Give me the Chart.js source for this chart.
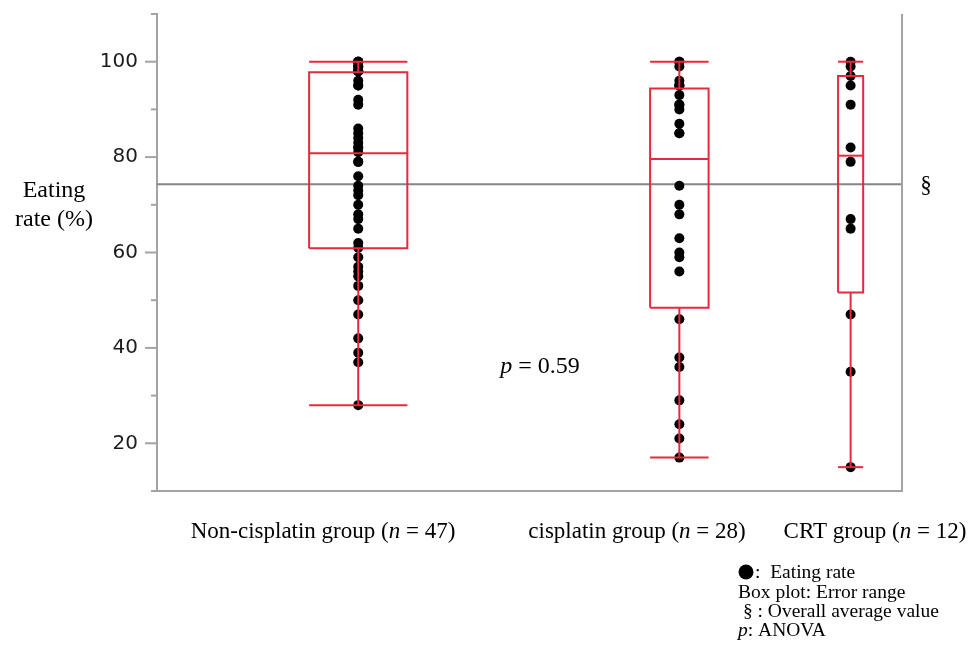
<!DOCTYPE html>
<html>
<head>
<meta charset="utf-8">
<script src="https://cdn.jsdelivr.net/npm/chart.js@4/dist/chart.umd.min.js"></script>
<style>
  html, body { margin: 0; padding: 0; background: #fff; }
  #wrap { width: 976px; height: 650px; position: relative; }
</style>
</head>
<body>
<div id="wrap"><canvas id="c" width="976" height="650"></canvas></div>
<script>
// Groups and sizes (x positions follow JMP's proportional widths)
const groupNames = ['Non-cisplatin group', 'cisplatin group', 'CRT group'];
const groupSizes = [47, 28, 12];

// Individual eating rates (%)
const nonCisplatinRates = [100, 100, 100, 100, 99, 99, 99, 98, 98, 98, 98, 98,
  96, 95, 95, 92, 91, 86, 85, 84, 83, 82, 82, 81,
  79, 79, 76, 74, 73, 72, 70, 68, 67, 65, 62,
  61, 59, 57, 56, 55, 53, 50, 47, 42, 39, 37, 28];
const cisplatinRates = [100, 100, 99, 96, 95, 95, 95, 93, 91, 91, 90, 87, 85, 85,
  74, 70, 68, 63, 60, 59, 56,
  46, 38, 36, 29, 24, 21, 17];
const crtRates = [100, 99, 97, 95, 91, 82, 79, 67, 65, 47, 35, 15];

// Box plot summaries
const upperWhisker = [100, 100, 100];
const q3 = [97.8, 94.4, 97.0];
const median = [80.8, 79.6, 80.3];
const q1 = [60.9, 48.4, 51.6];
const lowerWhisker = [28, 17, 15];

// Overall mean and ANOVA p value
const overallMean = 74.3;
const pValue = 0.59;

// Labelled y ticks
const yTickLabels = [20, 40, 60, 80, 100];

const RED = '#e8283f';
const GRAY_AXIS = '#a3a3a3';
const SERIF = '"Liberation Serif", "Times New Roman", serif';

const totalN = groupSizes.reduce((a, b) => a + b, 0);
const centers = [];
{ let acc = 0; groupSizes.forEach(n => { centers.push(acc + n / 2); acc += n; }); }
const halfWidths = groupSizes.map(n => n * 0.122);

const rateSets = [nonCisplatinRates, cisplatinRates, crtRates];

const datasets = [];

// overall mean line
datasets.push({
  data: [{ x: 0, y: overallMean }, { x: totalN, y: overallMean }],
  showLine: true, borderColor: '#858585', borderWidth: 2, pointRadius: 0, order: 3
});

// dots
rateSets.forEach((rates, g) => {
  datasets.push({
    data: rates.map(v => ({ x: centers[g], y: v })),
    pointRadius: 5, pointBackgroundColor: '#000', pointBorderWidth: 0,
    showLine: false, order: 2
  });
});

// boxes and whiskers
const seg = (pts) => ({
  data: pts, showLine: true, borderColor: RED, borderWidth: 2,
  pointRadius: 0, order: 1, fill: false
});
groupSizes.forEach((n, g) => {
  const c = centers[g], w = halfWidths[g];
  datasets.push(seg([
    { x: c - w, y: q1[g] }, { x: c + w, y: q1[g] }, { x: c + w, y: q3[g] },
    { x: c - w, y: q3[g] }, { x: c - w, y: q1[g] }
  ]));
  datasets.push(seg([{ x: c - w, y: median[g] }, { x: c + w, y: median[g] }]));
  datasets.push(seg([{ x: c, y: q3[g] }, { x: c, y: upperWhisker[g] }]));
  datasets.push(seg([{ x: c, y: q1[g] }, { x: c, y: lowerWhisker[g] }]));
  datasets.push(seg([{ x: c - w, y: upperWhisker[g] }, { x: c + w, y: upperWhisker[g] }]));
  datasets.push(seg([{ x: c - w, y: lowerWhisker[g] }, { x: c + w, y: lowerWhisker[g] }]));
});

// text with italic pieces: parts = [[text, italic], ...]
function drawRich(ctx, parts, x, y, size, align) {
  const fontOf = it => (it ? 'italic ' : '') + size + 'px ' + SERIF;
  let total = 0;
  parts.forEach(([t, it]) => { ctx.font = fontOf(it); total += ctx.measureText(t).width; });
  let cx = align === 'center' ? x - total / 2 : (align === 'right' ? x - total : x);
  ctx.textAlign = 'left';
  parts.forEach(([t, it]) => {
    ctx.font = fontOf(it);
    ctx.fillText(t, cx, y);
    cx += ctx.measureText(t).width;
  });
}

const framePlugin = {
  id: 'frame',
  afterDatasetsDraw(chart) {
    const { ctx, chartArea: a, scales: { y } } = chart;
    ctx.save();
    ctx.strokeStyle = GRAY_AXIS;
    ctx.lineWidth = 2;
    // y tick marks
    y.ticks.forEach(t => {
      const py = y.getPixelForValue(t.value);
      const len = yTickLabels.includes(t.value) ? 12 : 6;
      ctx.beginPath();
      ctx.moveTo(a.left - len, py);
      ctx.lineTo(a.left, py);
      ctx.stroke();
    });
    // right frame
    ctx.beginPath();
    ctx.moveTo(a.right, a.top);
    ctx.lineTo(a.right, a.bottom);
    ctx.stroke();
    ctx.restore();
  },
  afterDraw(chart) {
    const { ctx, scales: { y } } = chart;
    ctx.save();
    ctx.fillStyle = '#000';
    ctx.textBaseline = 'alphabetic';

    // axis title
    drawRich(ctx, [['Eating', false]], 54, 197, 24, 'center');
    drawRich(ctx, [['rate (%)', false]], 54, 226, 24, 'center');

    // overall mean marker
    drawRich(ctx, [['\u00a7', false]], 926, y.getPixelForValue(overallMean) + 8, 23, 'center');

    // p value
    drawRich(ctx, [['p', true], [' = ' + pValue.toFixed(2), false]], 540, 373, 24, 'center');

    // group labels
    const labelCx = [323, 637, 875];
    groupNames.forEach((name, g) => {
      drawRich(ctx, [[name + ' (', false], ['n', true], [' = ' + groupSizes[g] + ')', false]],
        labelCx[g], 538, 23, 'center');
    });

    // key
    ctx.beginPath();
    ctx.arc(746, 572, 7.5, 0, Math.PI * 2);
    ctx.fill();
    drawRich(ctx, [[':  Eating rate', false]], 755, 578, 19.5, 'left');
    drawRich(ctx, [['Box plot: Error range', false]], 738, 598, 19.5, 'left');
    drawRich(ctx, [[' \u00a7 : Overall average value', false]], 738, 617, 19.5, 'left');
    drawRich(ctx, [['p', true], [': ANOVA', false]], 738, 636, 19.5, 'left');
    ctx.restore();
  }
};

new Chart(document.getElementById('c'), {
  type: 'scatter',
  data: { datasets },
  options: {
    responsive: false,
    animation: false,
    devicePixelRatio: 1,
    events: [],
    layout: { padding: { top: 14, right: 74, bottom: 159, left: 0 } },
    plugins: { legend: { display: false }, tooltip: { enabled: false } },
    scales: {
      x: {
        type: 'linear', min: 0, max: totalN,
        ticks: { display: false },
        grid: { display: false },
        border: { display: true, color: GRAY_AXIS, width: 2 },
        afterFit: s => { s.height = 0; s.paddingLeft = 0; s.paddingRight = 0; }
      },
      y: {
        min: 10, max: 110,
        ticks: {
          stepSize: 10,
          padding: 19,
          color: '#1c1c1c',
          font: { family: '"DejaVu Sans", Verdana, sans-serif', size: 20 },
          callback: v => (yTickLabels.includes(v) ? String(v) : '')
        },
        grid: { display: false, drawTicks: false },
        border: { display: true, color: GRAY_AXIS, width: 2 },
        afterFit: s => { s.width = 157; s.paddingTop = 0; s.paddingBottom = 0; }
      }
    }
  },
  plugins: [framePlugin]
});
</script>
</body>
</html>
